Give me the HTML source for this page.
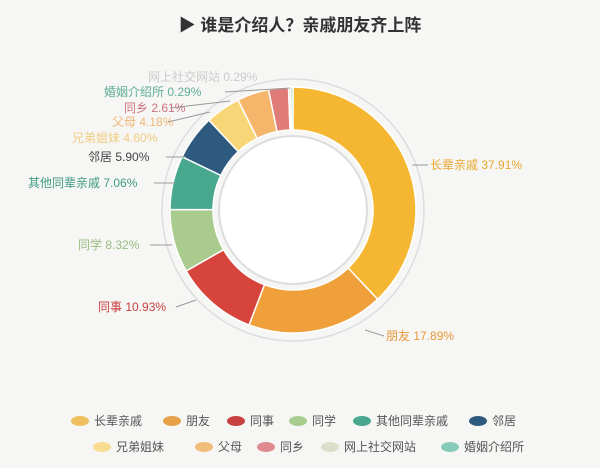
<!DOCTYPE html><html><head><meta charset="utf-8"><style>
body{margin:0;background:#f6f6f4;font-family:"Liberation Sans","Noto Sans CJK SC",sans-serif}
svg{display:block}
</style></head><body>
<svg id="s" width="600" height="468" xmlns="http://www.w3.org/2000/svg">
<rect width="600" height="468" fill="#f6f6f4"/>
<text x="300" y="31" text-anchor="middle" font-size="17" font-weight="bold" fill="#333" font-family="Liberation Sans,Noto Sans CJK SC,sans-serif">▶ 谁是介绍人？亲戚朋友齐上阵</text>
<circle cx="293" cy="210" r="131" fill="none" stroke="#ddd" stroke-width="1.5"/>
<circle cx="293" cy="210" r="74" fill="#fff" stroke="#ddd" stroke-width="2"/>
<g id="arcs"></g>
<g font-size="12" font-family="Liberation Sans,Noto Sans CJK SC,sans-serif">
<text x="430" y="169" fill="#e8a830">长辈亲戚 37.91%</text>
<text x="386" y="340" fill="#e89838">朋友 17.89%</text>
<text x="98" y="311" fill="#c84040">同事 10.93%</text>
<text x="78" y="249" fill="#98bc80">同学 8.32%</text>
<text x="28" y="187" fill="#3f9a84">其他同辈亲戚 7.06%</text>
<text x="88" y="161" fill="#444">邻居 5.90%</text>
<text x="72" y="142" fill="#f0cc80">兄弟姐妹 4.60%</text>
<text x="112" y="126" fill="#f0b878">父母 4.18%</text>
<text x="124" y="112" fill="#d07080">同乡 2.61%</text>
<text x="104" y="96" fill="#5fae98">婚姻介绍所 0.29%</text>
<text x="148" y="81" fill="#ccc">网上社交网站 0.29%</text>
</g>
<g stroke="#999" stroke-width="1" fill="none">
<line x1="412" y1="165" x2="428" y2="165"/>
<line x1="365" y1="330" x2="384" y2="336"/>
<line x1="196" y1="300" x2="176" y2="307"/>
<line x1="172" y1="245" x2="150" y2="245"/>
<line x1="176" y1="183" x2="154" y2="183"/>
<line x1="186" y1="157" x2="166" y2="157"/>
<line x1="210" y1="112" x2="168" y2="122"/>
<line x1="230" y1="101" x2="170" y2="108"/>
<line x1="290" y1="88" x2="225" y2="92"/>
</g>
<g id="leg" font-size="12" font-family="Liberation Sans,Noto Sans CJK SC,sans-serif" fill="#555"></g>
</svg>
<script>
var d=[[37.91,"#f5b731"],[17.89,"#f0a03a"],[10.93,"#d6443c"],[8.32,"#a9cc8e"],[7.06,"#48a88e"],[5.90,"#2f5a80"],[4.60,"#f8d677"],[4.18,"#f5b66c"],[2.61,"#e07c78"],[0.29,"#ddd"],[0.29,"#86cbb8"]];
var cx=293,cy=210,R=123,r=80,a=0,g=document.getElementById("arcs"),tot=0;d.forEach(function(x){tot+=x[0]});
function p(rad,t){return [cx+rad*Math.sin(t),cy-rad*Math.cos(t)]}
d.forEach(function(x){var b=a+x[0]/tot*2*Math.PI,l=(b-a)>Math.PI?1:0;
var A=p(R,a),B=p(R,b),C=p(r,b),D=p(r,a);
var e=document.createElementNS("http://www.w3.org/2000/svg","path");
e.setAttribute("d","M"+A+"A"+R+","+R+" 0 "+l+" 1 "+B+"L"+C+"A"+r+","+r+" 0 "+l+" 0 "+D+"Z");
e.setAttribute("fill",x[1]);e.setAttribute("stroke","#fff");e.setAttribute("stroke-width","1.5");g.appendChild(e);a=b;});
var L=[["长辈亲戚","#f0c060",72,421],["朋友","#e8a048",164,421],["同事","#c84040",228,421],["同学","#a8cc8e",290,421],["其他同辈亲戚","#48a88e",354,421],["邻居","#2f5a80",470,421],
["兄弟姐妹","#f8dc90",94,447],["父母","#f0bc78",196,447],["同乡","#e08a90",258,447],["网上社交网站","#ddddcc",322,447],["婚姻介绍所","#86cbb8",442,447]];
var lg=document.getElementById("leg");
L.forEach(function(x){var e=document.createElementNS("http://www.w3.org/2000/svg","ellipse");
e.setAttribute("cx",x[2]+8);e.setAttribute("cy",x[3]);e.setAttribute("rx",9);e.setAttribute("ry",5);e.setAttribute("fill",x[1]);lg.appendChild(e);
var t=document.createElementNS("http://www.w3.org/2000/svg","text");t.setAttribute("x",x[2]+22);t.setAttribute("y",x[3]+4);t.textContent=x[0];lg.appendChild(t);});
</script>
</body></html>
